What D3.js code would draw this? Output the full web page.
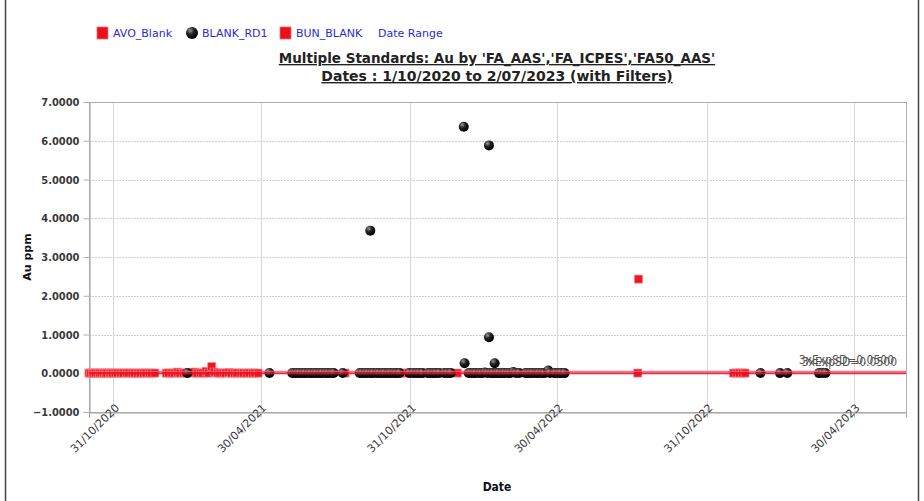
<!DOCTYPE html>
<html>
<head>
<meta charset="utf-8">
<script src="https://cdn.jsdelivr.net/npm/d3@7"></script>
<style>
  html, body { margin: 0; padding: 0; background: #fff; }
  svg { display: block; font-family: "DejaVu Sans", Verdana, sans-serif; }
</style>
</head>
<body>
<svg id="chart" width="924" height="501"></svg>
<script>
// ---------- DATA ----------
const titleLines = ["Multiple Standards: Au by 'FA_AAS','FA_ICPES','FA50_AAS'",
                    "Dates : 1/10/2020 to 2/07/2023 (with Filters)"];
const legendNames = ["AVO_Blank", "BLANK_RD1", "BUN_BLANK", "Date Range"];
const xTickDates = ["2020-10-31", "2021-04-30", "2021-10-31", "2022-04-30", "2022-10-31", "2023-04-30"];
const xTickLabels = ["31/10/2020", "30/04/2021", "31/10/2021", "30/04/2022", "31/10/2022", "30/04/2023"];
const yTicks = [-1, 0, 1, 2, 3, 4, 5, 6, 7];
const xDomain = ["2020-10-01", "2023-07-03"];
const yDomain = [-1, 7];
const limitValues = [0.0, 0.05];
const limitLabels = ["3xExpSD=0.0500", "3xExpSD=0.0500"];

const avoDates = ["2020-10-01","2020-10-03","2020-10-05","2020-10-07","2020-10-09","2020-10-12","2020-10-14","2020-10-16",
  "2020-10-19","2020-10-21","2020-10-23","2020-10-26","2020-10-28","2020-10-30","2020-11-02","2020-11-05","2020-11-09",
  "2020-11-12","2020-11-16","2020-11-19","2020-11-23","2020-11-26","2020-11-30","2020-12-03","2020-12-07","2020-12-10",
  "2020-12-14","2020-12-17","2020-12-21","2021-01-04","2021-01-07","2021-01-11","2021-01-14","2021-01-18","2021-01-21",
  "2021-01-25","2021-01-28","2021-02-01","2021-02-04","2021-02-08","2021-02-11","2021-02-15","2021-02-18","2021-02-22",
  "2021-02-25","2021-03-01","2021-03-04","2021-03-08","2021-03-11","2021-03-15","2021-03-18","2021-03-22","2021-03-25",
  "2021-03-29","2021-04-01","2021-04-06","2021-04-09","2021-04-13","2021-04-16","2021-04-20","2021-04-23","2021-04-27"];
const avoValues = [0.005,0.004,0.006,0.003,0.005,0.004,0.006,0.005,
  0.004,0.005,0.003,0.006,0.004,0.005,0.004,0.006,0.005,
  0.004,0.005,0.006,0.004,0.005,0.003,0.005,0.004,0.006,
  0.005,0.004,0.005,0.004,0.006,0.005,0.004,0.03,0.005,
  0.004,0.006,0.02,0.005,0.03,0.004,0.005,0.006,0.05,
  0.004,0.17,0.03,0.005,0.004,0.006,0.005,0.02,0.004,
  0.005,0.006,0.004,0.005,0.003,0.006,0.004,0.005,0.004];

const blankDates = ["2021-01-30","2021-05-11","2021-06-08","2021-06-11","2021-06-14","2021-06-17","2021-06-21","2021-06-24",
  "2021-06-28","2021-07-01","2021-07-05","2021-07-08","2021-07-12","2021-07-15","2021-07-19","2021-07-22","2021-07-26",
  "2021-07-29","2021-08-09","2021-08-30","2021-09-02","2021-09-06","2021-09-09","2021-09-12","2021-09-13","2021-09-16",
  "2021-09-20","2021-09-23","2021-09-27","2021-09-30","2021-10-04","2021-10-07","2021-10-11","2021-10-14","2021-10-18",
  "2021-10-30","2021-11-04","2021-11-08","2021-11-11","2021-11-15","2021-11-22","2021-11-25","2021-11-29","2021-12-02",
  "2021-12-06","2021-12-12","2021-12-16","2021-12-20","2022-01-05","2022-01-06","2022-01-11","2022-01-13","2022-01-17",
  "2022-01-20","2022-01-24","2022-01-27","2022-01-31","2022-02-03","2022-02-05","2022-02-05","2022-02-07","2022-02-10",
  "2022-02-12","2022-02-14","2022-02-17","2022-02-21","2022-02-24","2022-02-28","2022-03-03","2022-03-07","2022-03-10",
  "2022-03-14","2022-03-22","2022-03-25","2022-03-28","2022-03-31","2022-04-04","2022-04-07","2022-04-11","2022-04-14",
  "2022-04-19","2022-04-21","2022-04-26","2022-04-28","2022-05-02","2022-05-05","2022-05-09","2023-01-05","2023-01-29",
  "2023-02-07","2023-03-18","2023-03-22","2023-03-26"];
const blankValues = [0.005,0.006,0.005,0.004,0.006,0.005,0.004,0.005,
  0.006,0.004,0.005,0.006,0.004,0.005,0.006,0.004,0.005,
  0.006,0.005,0.005,0.004,0.006,0.005,3.68,0.004,0.005,
  0.006,0.004,0.005,0.006,0.004,0.005,0.006,0.004,0.005,
  0.005,0.004,0.006,0.005,0.004,0.005,0.006,0.004,0.005,
  0.006,0.005,0.004,0.006,6.36,0.26,0.005,0.006,0.004,
  0.005,0.006,0.004,0.02,0.005,5.88,0.93,0.006,0.004,
  0.26,0.005,0.006,0.004,0.005,0.006,0.004,0.03,0.005,
  0.006,0.005,0.004,0.006,0.005,0.004,0.006,0.005,0.004,
  0.07,0.005,0.006,0.004,0.005,0.006,0.004,0.005,0.004,
  0.005,0.004,0.006,0.005];

const bunDates = ["2021-07-07","2021-07-23","2021-08-12","2021-10-19","2021-10-25","2021-10-29","2021-11-03","2021-11-09",
  "2021-11-15","2021-11-20","2021-11-26","2021-12-28","2022-02-15","2022-03-20","2022-08-07","2022-08-08",
  "2022-12-03","2022-12-07","2022-12-10","2022-12-14","2022-12-17"];
const bunValues = [0.004,0.005,0.004,0.005,0.004,0.006,0.005,0.004,
  0.005,0.006,0.004,0.005,0.004,0.005,0.005,2.43,
  0.004,0.005,0.006,0.004,0.005];

// ---------- SETUP ----------
const parse = d3.utcParse("%Y-%m-%d");
const svg = d3.select("#chart");
const plot = {left: 89, right: 906, top: 102, bottom: 412};

const x = d3.scaleUtc().domain(xDomain.map(parse)).range([plot.left, plot.right]);
const y = d3.scaleLinear().domain(yDomain).range([plot.bottom, plot.top]);

const defs = svg.append("defs");
const grad = defs.append("radialGradient").attr("id", "ball").attr("cx", "35%").attr("cy", "30%").attr("r", "70%");
grad.append("stop").attr("offset", "0%").attr("stop-color", "#9a9a9a");
grad.append("stop").attr("offset", "45%").attr("stop-color", "#222");
grad.append("stop").attr("offset", "100%").attr("stop-color", "#000");

// outer frame
svg.append("rect").attr("x", 5.5).attr("y", -2).attr("width", 913).attr("height", 506)
  .attr("fill", "none").attr("stroke", "#444").attr("stroke-width", 1.5);

// gridlines horizontal (dotted)
svg.append("g").selectAll("line").data(yTicks).join("line")
  .attr("x1", plot.left).attr("x2", plot.right)
  .attr("y1", d => Math.round(y(d)) + 0.5).attr("y2", d => Math.round(y(d)) + 0.5)
  .attr("stroke", "#cfcfcf").attr("stroke-dasharray", "2,1");

// gridlines vertical
svg.append("g").selectAll("line").data(xTickDates).join("line")
  .attr("x1", d => Math.round(x(parse(d))) + 0.5).attr("x2", d => Math.round(x(parse(d))) + 0.5)
  .attr("y1", plot.top).attr("y2", plot.bottom)
  .attr("stroke", "#d8d8d8");

// plot border
svg.append("rect").attr("x", plot.left + 0.5).attr("y", plot.top + 0.5)
  .attr("width", plot.right - plot.left).attr("height", plot.bottom - plot.top)
  .attr("fill", "none").attr("stroke", "#b0b0b0");

// y axis
const yAxis = d3.axisLeft(y).tickValues(yTicks).tickFormat(d3.format(".4f")).tickSize(6).tickPadding(4);
const gy = svg.append("g").attr("transform", `translate(${plot.left + 0.5},0)`).call(yAxis);
gy.select(".domain").attr("stroke", "#a0a0a0");
gy.selectAll(".tick line").attr("stroke", "#b0b0b0");
gy.selectAll(".tick text").attr("fill", "#3a3a3a").style("font-size", "11px").style("font-weight", "bold")
  .style("font-family", "'DejaVu Sans Condensed', 'DejaVu Sans', sans-serif");

// x axis
const xAxis = d3.axisBottom(x).tickValues(xTickDates.map(parse))
  .tickFormat((d, i) => xTickLabels[i]).tickSize(5).tickPadding(3);
const gx = svg.append("g").attr("transform", `translate(0,${plot.bottom + 0.5})`).call(xAxis);
gx.select(".domain").attr("stroke", "#a0a0a0");
gx.selectAll(".tick line").attr("stroke", "#b0b0b0");
gx.selectAll(".tick text").attr("fill", "#3a3a3a").style("font-size", "11px")
  .style("font-family", "'DejaVu Sans', sans-serif")
  .attr("text-anchor", "end").attr("dy", "0").attr("dx", "0")
  .attr("y", 0)
  .attr("transform", "translate(6,-4) rotate(-45)");

// axis titles
svg.append("text").attr("x", 497).attr("y", 491).attr("text-anchor", "middle")
  .style("font-size", "12px").style("font-weight", "bold").attr("fill", "#111")
  .style("font-family", "'DejaVu Sans Condensed', 'DejaVu Sans', sans-serif").text("Date");
svg.append("text").attr("transform", `translate(31,${(plot.top + plot.bottom) / 2}) rotate(-90)`)
  .attr("text-anchor", "middle").style("font-size", "11px").style("font-weight", "bold").attr("fill", "#111")
  .text("Au ppm");

// title
const titleSizes = ["13.5px", "14px"];
titleLines.forEach((t, i) => {
  svg.append("text").attr("x", 497).attr("y", 63 + i * 18).attr("text-anchor", "middle")
    .style("font-size", titleSizes[i]).style("font-weight", "bold").attr("fill", "#222")
    .style("text-decoration", "underline").text(t);
});

// legend
const legY = 33;
const legendItems = [
  {name: legendNames[0], x: 97, type: "square"},
  {name: legendNames[1], x: 186, type: "circle"},
  {name: legendNames[2], x: 280, type: "square"},
  {name: legendNames[3], x: 368, type: "none"}
];
legendItems.forEach(it => {
  if (it.type === "square") {
    svg.append("rect").attr("x", it.x).attr("y", legY - 6).attr("width", 11).attr("height", 12)
      .attr("fill", "#e8101a").attr("stroke", "#ff6a6a").attr("stroke-width", 0.8);
  } else if (it.type === "circle") {
    svg.append("circle").attr("cx", it.x + 6).attr("cy", legY).attr("r", 6).attr("fill", "url(#ball)");
  }
  svg.append("text").attr("x", it.x + (it.type === "none" ? 10 : 16)).attr("y", legY + 4)
    .style("font-size", "11px").attr("fill", "#2a2ad8").text(it.name);
});

// data
const avo = avoDates.map((d, i) => ({date: parse(d), value: avoValues[i]}));
const blank = blankDates.map((d, i) => ({date: parse(d), value: blankValues[i]}));
const bun = bunDates.map((d, i) => ({date: parse(d), value: bunValues[i]}));

const sq = 8;
function drawSquares(data) {
  svg.append("g").selectAll("rect").data(data).join("rect")
    .attr("x", d => x(d.date) - sq / 2).attr("y", d => y(d.value) - sq / 2)
    .attr("width", sq).attr("height", sq)
    .attr("fill", "#ee1522").attr("stroke", "#ff8080").attr("stroke-width", 0.7);
}
drawSquares(avo);
drawSquares(bun);

svg.append("g").selectAll("circle").data(blank).join("circle")
  .attr("cx", d => x(d.date)).attr("cy", d => y(d.value)).attr("r", 5)
  .attr("fill", "url(#ball)");

// limit lines
svg.append("g").selectAll("line").data(limitValues).join("line")
  .attr("x1", plot.left).attr("x2", plot.right)
  .attr("y1", d => y(d)).attr("y2", d => y(d))
  .attr("stroke", (d, i) => i === 0 ? "#e8102a" : "#f06070")
  .attr("stroke-width", (d, i) => i === 0 ? 2.2 : 1.2)
  .attr("opacity", 0.85);

// limit labels (overlapping, as in the source chart)
limitLabels.forEach((t, i) => {
  svg.append("text").attr("x", 897 - i * 3).attr("y", y(limitValues[0]) - 7 - i * 2)
    .attr("text-anchor", "end").style("font-size", "12px").attr("fill", "#555")
    .style("font-family", "'DejaVu Sans Condensed', 'DejaVu Sans', sans-serif").text(t);
});
</script>
</body>
</html>
